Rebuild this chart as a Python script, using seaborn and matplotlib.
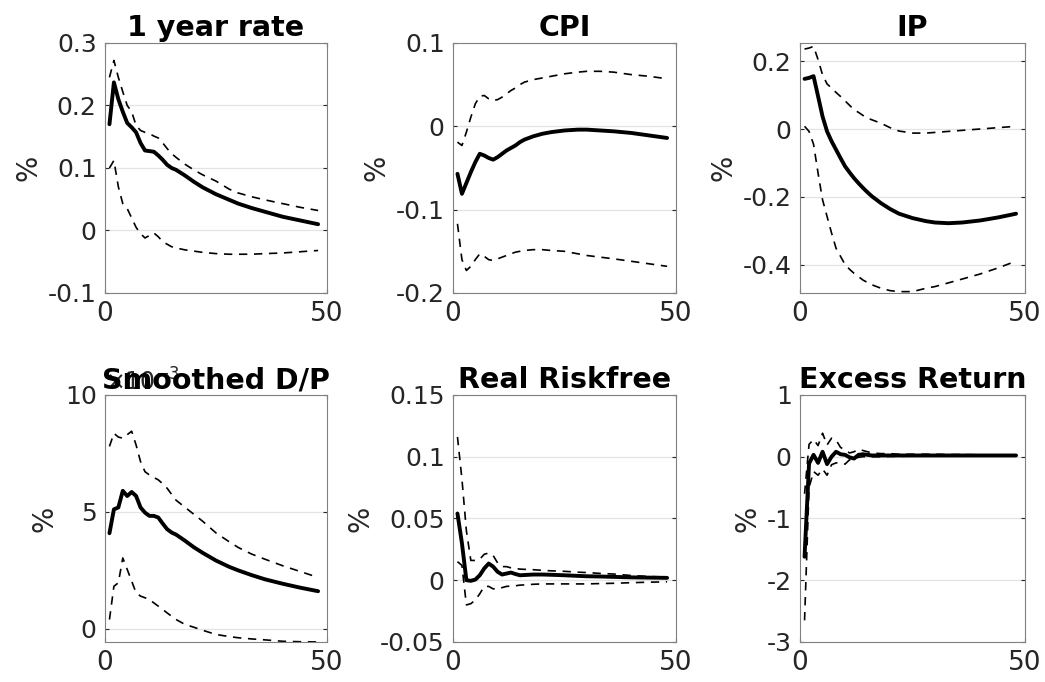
import numpy as np
import seaborn as sns
from matplotlib import pyplot as plt
from matplotlib.ticker import FuncFormatter

# horizons (months)
h = list(range(1, 17)) + [18, 20, 22, 25, 28, 30, 33, 36, 40, 44, 48]

# 1 year rate
rate_med = [0.17, 0.237, 0.21, 0.19, 0.172, 0.165, 0.157, 0.14, 0.128, 0.127, 0.126, 0.12, 0.113, 0.105, 0.1, 0.097,
            0.088, 0.078, 0.069, 0.058, 0.049, 0.043, 0.036, 0.03, 0.022, 0.016, 0.01]
rate_up = [0.245, 0.272, 0.245, 0.222, 0.2, 0.19, 0.168, 0.16, 0.157, 0.155, 0.151, 0.148, 0.14, 0.131, 0.123, 0.117,
           0.106, 0.097, 0.089, 0.079, 0.066, 0.06, 0.054, 0.049, 0.043, 0.037, 0.032]
rate_lo = [0.1, 0.112, 0.07, 0.043, 0.035, 0.02, 0.005, -0.005, -0.012, -0.008, -0.004, -0.01, -0.018, -0.022, -0.026, -0.028,
           -0.031, -0.033, -0.035, -0.037, -0.038, -0.038, -0.038, -0.037, -0.036, -0.034, -0.032]

# CPI
cpi_med = [-0.057, -0.081, -0.068, -0.055, -0.043, -0.033, -0.035, -0.038, -0.04, -0.037, -0.033, -0.029, -0.026, -0.023, -0.019, -0.016,
           -0.012, -0.009, -0.007, -0.005, -0.004, -0.004, -0.005, -0.006, -0.008, -0.011, -0.014]
cpi_up = [-0.019, -0.023, -0.007, 0.011, 0.027, 0.036, 0.037, 0.033, 0.031, 0.032, 0.035, 0.039, 0.043, 0.046, 0.05, 0.053,
          0.056, 0.058, 0.06, 0.063, 0.065, 0.066, 0.066, 0.065, 0.062, 0.06, 0.057]
cpi_lo = [-0.117, -0.16, -0.173, -0.168, -0.16, -0.153, -0.156, -0.16, -0.161, -0.159, -0.157, -0.155, -0.153, -0.151, -0.15, -0.149,
          -0.148, -0.148, -0.149, -0.15, -0.153, -0.155, -0.157, -0.159, -0.162, -0.165, -0.168]

# IP
ip_med = [0.148, 0.151, 0.156, 0.097, 0.037, -0.007, -0.036, -0.061, -0.086, -0.11, -0.128, -0.145, -0.16, -0.174, -0.187, -0.199,
          -0.219, -0.236, -0.25, -0.263, -0.272, -0.276, -0.278, -0.276, -0.27, -0.261, -0.25]
ip_up = [0.236, 0.239, 0.244, 0.205, 0.16, 0.133, 0.121, 0.108, 0.096, 0.083, 0.07, 0.057, 0.049, 0.04, 0.032, 0.027,
         0.017, 0.004, -0.006, -0.012, -0.012, -0.01, -0.007, -0.004, 0.0, 0.004, 0.008]
ip_lo = [0.008, -0.007, -0.045, -0.13, -0.209, -0.258, -0.307, -0.352, -0.376, -0.4, -0.414, -0.426, -0.436, -0.446, -0.453, -0.46,
         -0.47, -0.477, -0.48, -0.48, -0.47, -0.465, -0.454, -0.443, -0.428, -0.41, -0.39]

# Smoothed D/P (x 1e-3)
dp_med = np.array([4.09, 5.11, 5.19, 5.9, 5.68, 5.85, 5.68, 5.19, 4.97, 4.83, 4.83, 4.76, 4.5, 4.26, 4.12, 4.03,
                   3.77, 3.49, 3.25, 2.92, 2.65, 2.5, 2.3, 2.12, 1.93, 1.76, 1.61]) * 1e-3
dp_up = np.array([7.8, 8.36, 8.2, 8.15, 8.3, 8.45, 7.86, 7.15, 6.72, 6.58, 6.47, 6.37, 6.2, 6.01, 5.75, 5.5,
                  5.2, 4.9, 4.6, 4.1, 3.72, 3.48, 3.2, 2.98, 2.7, 2.45, 2.2]) * 1e-3
dp_lo = np.array([0.4, 1.82, 1.97, 3.03, 2.54, 2.04, 1.54, 1.4, 1.33, 1.25, 1.11, 0.97, 0.83, 0.68, 0.54, 0.4,
                  0.19, 0.07, -0.06, -0.24, -0.33, -0.38, -0.43, -0.47, -0.53, -0.55, -0.56]) * 1e-3

# Real Riskfree
rf_med = [0.054, 0.03, 0.0, -0.0005, 0.0005, 0.004, 0.0095, 0.0135, 0.011, 0.0068, 0.0046, 0.0054, 0.0062, 0.005, 0.004, 0.0042,
          0.0046, 0.0046, 0.0044, 0.004, 0.0035, 0.0032, 0.003, 0.0027, 0.0023, 0.0021, 0.0019]
rf_up = [0.116, 0.082, 0.04, 0.016, 0.016, 0.017, 0.021, 0.022, 0.02, 0.014, 0.011, 0.011, 0.01, 0.0095, 0.009, 0.0088,
         0.0085, 0.008, 0.0076, 0.0072, 0.0065, 0.0062, 0.0055, 0.005, 0.0038, 0.003, 0.0025]
rf_lo = [0.015, 0.012, -0.02, -0.019, -0.016, -0.011, -0.005, -0.005, -0.007, -0.007, -0.006, -0.005, -0.0048, -0.0045, -0.004, -0.0038,
         -0.0033, -0.003, -0.003, -0.003, -0.003, -0.003, -0.0027, -0.0025, -0.002, -0.0016, -0.0013]

# Excess Return
er_med = [-1.62, -0.11, 0.03, -0.1, 0.08, -0.12, 0.0, 0.08, 0.04, 0.03, -0.01, -0.03, 0.03, 0.04, 0.03, 0.02,
          0.02, 0.02, 0.02, 0.02, 0.02, 0.02, 0.02, 0.02, 0.02, 0.02, 0.02]
er_up = [-0.6, 0.2, 0.28, 0.18, 0.38, 0.19, 0.3, 0.27, 0.15, 0.11, 0.06, 0.08, 0.12, 0.1, 0.08, 0.06,
         0.05, 0.05, 0.04, 0.04, 0.04, 0.04, 0.035, 0.035, 0.03, 0.03, 0.03]
er_lo = [-2.65, -0.5, -0.24, -0.3, -0.2, -0.3, -0.13, -0.1, -0.1, -0.12, -0.05, -0.03, -0.01, 0.0, 0.0, 0.0,
         0.0, 0.005, 0.005, 0.01, 0.01, 0.01, 0.01, 0.01, 0.01, 0.01, 0.01]

titles = ['1 year rate', 'CPI', 'IP', 'Smoothed D/P', 'Real Riskfree', 'Excess Return']
series = [(rate_med, rate_up, rate_lo), (cpi_med, cpi_up, cpi_lo), (ip_med, ip_up, ip_lo),
          (dp_med, dp_up, dp_lo), (rf_med, rf_up, rf_lo), (er_med, er_up, er_lo)]
ylims = [(-0.1, 0.3), (-0.2, 0.1), (-0.484, 0.254), (-0.00056, 0.01), (-0.05, 0.15), (-3, 1)]
yticks = [[-0.1, 0, 0.1, 0.2, 0.3], [-0.2, -0.1, 0, 0.1], [-0.4, -0.2, 0, 0.2],
          [0, 0.005, 0.01], [-0.05, 0, 0.05, 0.1, 0.15], [-3, -2, -1, 0, 1]]

sns.set_style("white")
plt.rcParams['font.family'] = ['DejaVu Sans']
plt.rcParams['axes.unicode_minus'] = False

fig = plt.figure(figsize=(10.45, 6.82), dpi=100)
lefts = [0.1005, 0.4335, 0.7656]
widths = [0.2124, 0.2134, 0.2153]
bottoms = [0.5704, 0.0587]
heights = [0.3666, 0.3622]

for i in range(6):
    r, c = divmod(i, 3)
    ax = fig.add_axes([lefts[c], bottoms[r], widths[c], heights[r]])
    med, up, lo = series[i]
    sns.lineplot(x=h, y=up, ax=ax, color='k', lw=1.2, linestyle=(0, (5, 4)))
    sns.lineplot(x=h, y=lo, ax=ax, color='k', lw=1.2, linestyle=(0, (5, 4)))
    sns.lineplot(x=h, y=med, ax=ax, color='k', lw=2.8)
    ax.set_xlim(0, 50)
    ax.set_xticks([0, 50])
    ax.set_ylim(*ylims[i])
    ax.set_yticks(yticks[i])
    if i == 3:
        ax.ticklabel_format(axis='y', style='sci', scilimits=(-3, -3), useMathText=True)
        ax.yaxis.get_offset_text().set_fontsize(17)
        ax.yaxis.get_offset_text().set_color('#404040')
    else:
        ax.yaxis.set_major_formatter(FuncFormatter(lambda v, p: '%g' % v))
    ax.yaxis.grid(True, color='#e3e3e3', lw=0.9)
    ax.set_axisbelow(True)
    ax.tick_params(axis='y', labelsize=18, colors='#262626', direction='in', length=3, left=True, right=True,
                   pad=6)
    ax.tick_params(axis='x', labelsize=19, colors='#262626', direction='in', length=3, bottom=True, top=True,
                   pad=6)
    for s in ax.spines.values():
        s.set_color('#808080')
        s.set_linewidth(0.8)
    ax.set_title(titles[i], fontsize=20.5, fontweight='bold', color='k', pad=5, y=1.0)
    ax.set_ylabel('%', fontsize=20, color='#262626')
    ax.set_xlabel('')

fig.savefig('out.png', dpi=100)
